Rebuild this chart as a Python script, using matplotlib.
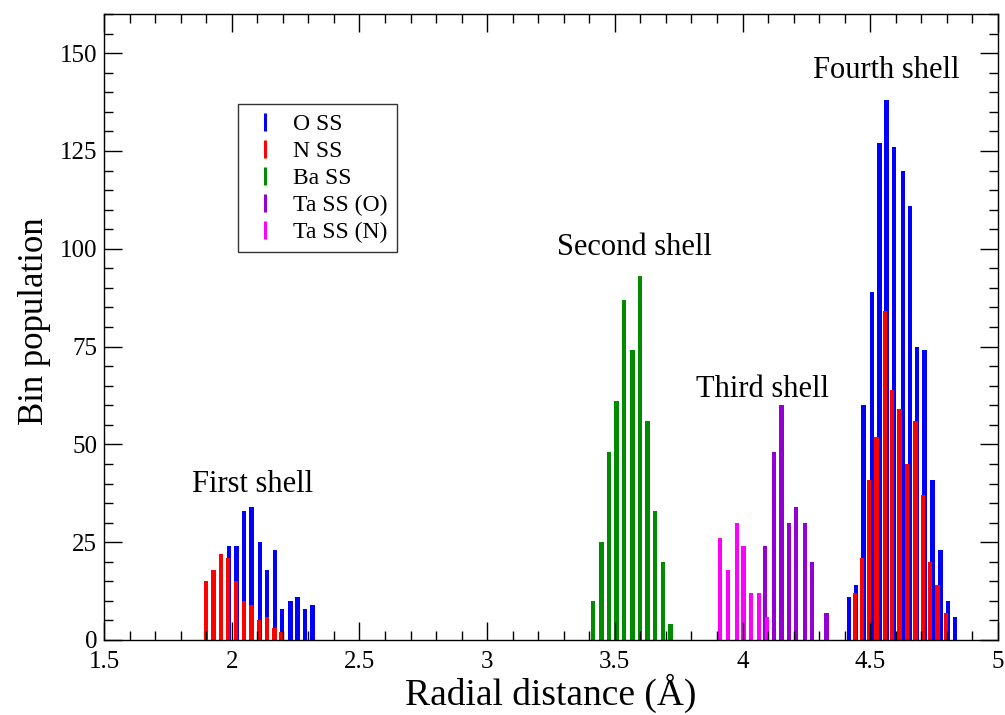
import numpy as np
import matplotlib
matplotlib.use("Agg")
import matplotlib.pyplot as plt
from matplotlib.lines import Line2D

plt.rcParams["font.family"] = ["Liberation Serif", "DejaVu Serif"]

# bin centres (Angstrom) and bin populations
o_ss_x = [1.990, 2.019, 2.047, 2.077, 2.110, 2.139, 2.169, 2.196, 2.230, 2.258, 2.287, 2.316,
          4.416, 4.444, 4.473, 4.507, 4.536, 4.564, 4.593, 4.627, 4.655, 4.684, 4.712, 4.744,
          4.775, 4.803, 4.832]
o_ss_n = [24, 24, 33, 34, 25, 18, 23, 8, 10, 11, 8, 9,
          11, 14, 60, 89, 127, 138, 126, 120, 111, 75, 74, 41, 23, 10, 6]

n_ss_x = [1.899, 1.929, 1.957, 1.986, 2.018, 2.048, 2.078, 2.106, 2.138, 2.168, 2.195,
          4.439, 4.467, 4.495, 4.524, 4.558, 4.586, 4.615, 4.644, 4.677, 4.706, 4.734,
          4.763, 4.797]
n_ss_n = [15, 18, 22, 21, 15, 10, 9, 5, 6, 3, 2,
          12, 21, 41, 52, 84, 64, 59, 45, 56, 37, 20, 14, 7]

ba_ss_x = [3.414, 3.448, 3.477, 3.506, 3.535, 3.569, 3.598, 3.628, 3.657, 3.689, 3.718]
ba_ss_n = [10, 25, 48, 61, 87, 74, 93, 56, 33, 20, 4]

ta_o_x = [4.089, 4.124, 4.153, 4.181, 4.210, 4.244, 4.272, 4.329]
ta_o_n = [24, 48, 60, 30, 34, 30, 20, 7]

ta_n_x = [3.912, 3.944, 3.977, 4.004, 4.034, 4.065, 4.095]
ta_n_n = [26, 18, 30, 24, 12, 12, 6]

series_labels = ["O SS", "N SS", "Ba SS", "Ta SS (O)", "Ta SS (N)"]
series_colors = ["#0000ff", "#ff0000", "#008c00", "#9400d3", "#ff00ff"]

shell_labels = ["First shell", "Second shell", "Third shell", "Fourth shell"]
shell_pos = [(2.083, 37.8), (3.575, 98.4), (4.078, 62.2), (4.562, 143.7)]

xtick_vals = [1.5, 2, 2.5, 3, 3.5, 4, 4.5, 5]
xtick_labels = ["1.5", "2", "2.5", "3", "3.5", "4", "4.5", "5"]
ytick_vals = [0, 25, 50, 75, 100, 125, 150]


fig = plt.figure(figsize=(10.05, 7.15), dpi=100)
ax = fig.add_axes([104 / 1005, 75 / 715, 894 / 1005, 626 / 715])

# draw order matters: red sits over blue, magenta over violet
data = [(o_ss_x, o_ss_n), (n_ss_x, n_ss_n), (ba_ss_x, ba_ss_n),
        (ta_o_x, ta_o_n), (ta_n_x, ta_n_n)]
for (x, n), c in zip(data, series_colors):
    ax.bar(x, n, width=0.017, color=c, linewidth=0)

for text, (x, y) in zip(shell_labels, shell_pos):
    ax.text(x, y, text, ha="center", va="baseline", fontsize=22)

ax.set_xlim(1.5, 5)
ax.set_ylim(0, 160)
ax.set_xticks(xtick_vals)
ax.set_xticklabels(xtick_labels)
ax.set_yticks(ytick_vals)
ax.set_xticks(np.arange(1.5, 5.001, 0.1), minor=True)
ax.set_yticks(np.arange(0, 161, 5), minor=True)
ax.tick_params(which="both", direction="in", top=True, right=True, width=1.0)
ax.tick_params(which="major", length=13, labelsize=18)
ax.tick_params(axis="x", which="major", pad=8)
ax.tick_params(axis="y", which="major", pad=5)
ax.tick_params(which="minor", length=6.5)
for sp in ax.spines.values():
    sp.set_linewidth(1.0)

ax.set_xlabel("Radial distance (Å)", fontsize=27, va="baseline")
ax.xaxis.set_label_coords(0.5, -0.104)
ax.set_ylabel("Bin population", fontsize=25, va="baseline")
ax.yaxis.set_label_coords(-0.068, 0.51)

handles = [Line2D([], [], marker="|", linestyle="None", color=c,
                  markersize=13, markeredgewidth=2.2) for c in series_colors]
leg = ax.legend(handles, series_labels, loc="upper left", bbox_to_anchor=(0.150, 0.856),
                borderaxespad=0, fontsize=17, frameon=True, fancybox=False,
                handlelength=1.5, handletextpad=0.42, borderpad=0.4, labelspacing=0.23)
leg.get_frame().set_edgecolor("black")
leg.get_frame().set_linewidth(1.0)

fig.savefig("out.png", dpi=100)
